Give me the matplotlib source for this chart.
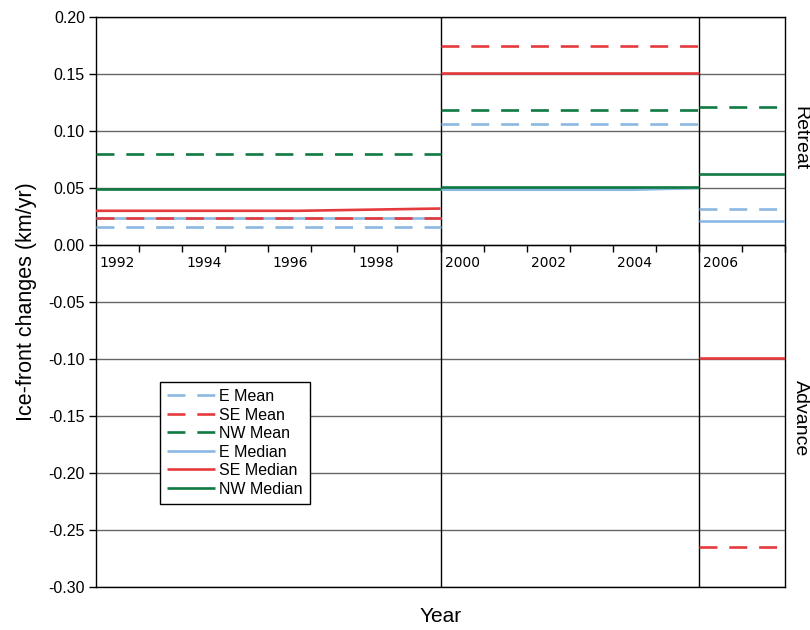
import matplotlib
matplotlib.use("Agg")
import matplotlib.pyplot as plt
from matplotlib.ticker import FormatStrFormatter

plt.rcParams['font.family'] = ['Liberation Sans', 'DejaVu Sans']
plt.rcParams['axes.unicode_minus'] = False

# periods (year boundaries on a category axis, each year is one slot)
periods = [(1992, 2000), (2000, 2006), (2006, 2008)]
years = list(range(1992, 2008))

# values per period -- mostly flat
e_mean = [0.016, 0.106, 0.032]
se_mean = [0.024, 0.175, -0.265]
nw_mean = [0.080, 0.118, 0.121]
e_median = [0.024, 0.049, 0.021]
se_median = [0.030, 0.151, -0.099]
nw_median = [0.0495, 0.051, 0.062]
# small drifts inside the first two periods
se_median_p1 = ([1992, 1996.7, 2000], [0.030, 0.030, 0.032])
e_median_p2 = ([2000, 2004.5, 2006], [0.0485, 0.0485, 0.050])

blue = '#8bb8e2'
red = '#e53a3d'
green = '#0f7a41'

fig = plt.figure(figsize=(8.1, 6.3), dpi=100)
ax = fig.add_axes([96/810, 1-587/630, (785-96)/810, (587-17)/630])

lw = 1.9
dash = (6.8, 4.5)

def draw_series(vals, color, ls, label, z, special=None):
    for i, (x0, x1) in enumerate(periods):
        if special is not None and special[0] == i:
            xs, ys = special[1]
        else:
            xs, ys = [x0, x1], [vals[i], vals[i]]
        line, = ax.plot(xs, ys, color=color, lw=lw, zorder=z,
                        label=label if i == 0 else None,
                        solid_capstyle='butt', dash_capstyle='butt')
        if ls == 'dash':
            line.set_dashes(dash)

draw_series(e_median, blue, 'solid', 'E Median', 3, special=(1, e_median_p2))
draw_series(e_mean, blue, 'dash', 'E Mean', 4)
draw_series(se_mean, red, 'dash', 'SE Mean', 4)
draw_series(nw_mean, green, 'dash', 'NW Mean', 4)
draw_series(se_median, red, 'solid', 'SE Median', 5, special=(0, se_median_p1))
draw_series(nw_median, green, 'solid', 'NW Median', 5)

ax.set_xlim(1992, 2008)
ax.set_ylim(-0.30, 0.20)
ax.set_yticks([-0.30, -0.25, -0.20, -0.15, -0.10, -0.05, 0.0, 0.05, 0.10, 0.15, 0.20])
ax.yaxis.set_major_formatter(FormatStrFormatter('%.2f'))
ax.tick_params(axis='y', direction='out', length=5, width=1, labelsize=11.5, pad=3)
ax.grid(axis='y', color='#666666', lw=1, zorder=1)
ax.axhline(0, color='black', lw=1, zorder=2)
for xb in [2000, 2006]:
    ax.axvline(xb, color='black', lw=1, zorder=2)
for s in ax.spines.values():
    s.set_linewidth(1)
    s.set_color('black')

# year axis sits on the zero line
ax.set_xticks([])
sec = ax.secondary_xaxis(0.6)
sec.spines['bottom'].set_visible(False)
sec.spines['top'].set_visible(False)
sec.xaxis.tick_bottom()
sec.set_xticks(years[1:] + [2008])
sec.set_xticklabels([])
sec.set_xticks([y + 0.5 for y in years if y % 2 == 0], minor=True)
sec.set_xticklabels([str(y) for y in years if y % 2 == 0], minor=True,
                    family='DejaVu Sans', fontsize=10)
sec.tick_params(which='both', bottom=True, top=False, labelbottom=True, labeltop=False)
sec.tick_params(which='major', direction='out', length=5, width=1)
sec.tick_params(which='minor', length=0, pad=8)

ax.set_ylabel('Ice-front changes (km/yr)', fontsize=15.5, labelpad=8)
fig.text((96+785)/2/810, 1-617/630, 'Year', ha='center', va='center', fontsize=15)
fig.text(800/810, 1-138/630, 'Retreat', rotation=-90, ha='center', va='center', fontsize=14)
fig.text(800/810, 1-418/630, 'Advance', rotation=-90, ha='center', va='center', fontsize=14)

h, l = ax.get_legend_handles_labels()
order = ['E Mean', 'SE Mean', 'NW Mean', 'E Median', 'SE Median', 'NW Median']
hd = dict(zip(l, h))
leg = ax.legend([hd[k] for k in order], order, loc='upper left',
                bbox_to_anchor=(0.093, 0.36), borderaxespad=0, fontsize=11.5,
                fancybox=False, edgecolor='black', framealpha=1,
                handlelength=3.0, labelspacing=0.22, handletextpad=0.25,
                borderpad=0.45)
leg.get_frame().set_linewidth(1)
leg.set_zorder(10)

fig.savefig('out.png', dpi=100)
